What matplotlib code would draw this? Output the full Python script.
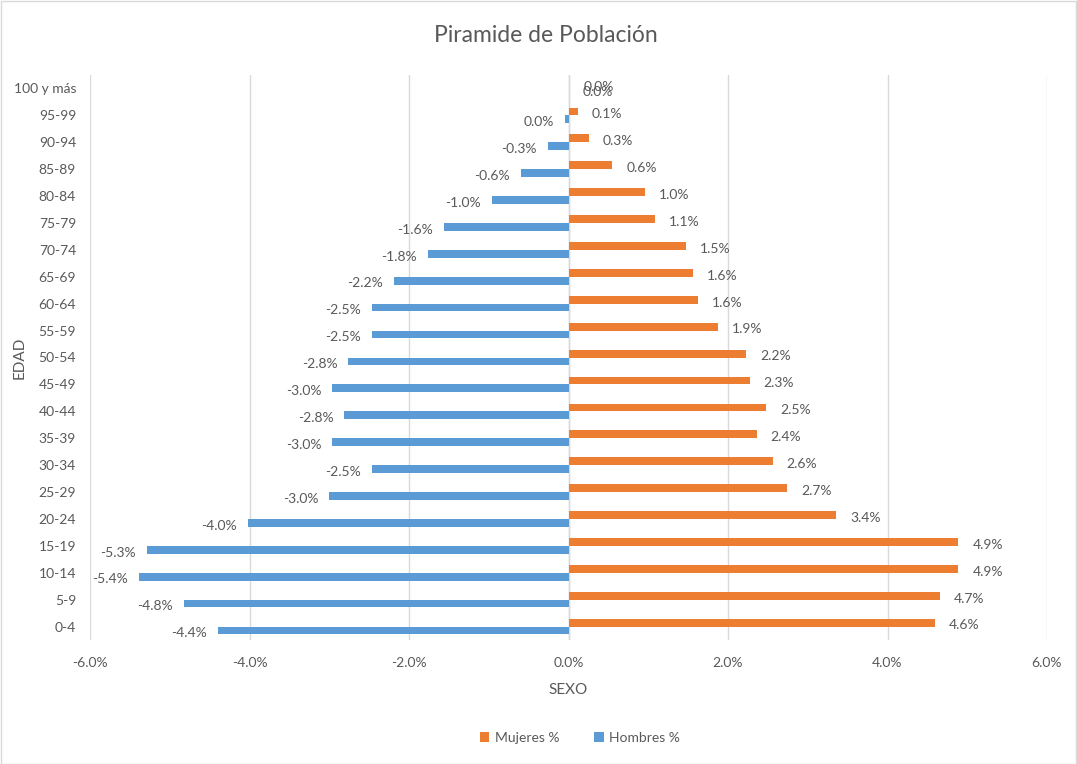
import matplotlib
matplotlib.use("Agg")
import matplotlib.pyplot as plt
from matplotlib.patches import Rectangle
from matplotlib.ticker import FuncFormatter
import numpy as np

plt.rcParams['font.family'] = ['Lato', 'DejaVu Sans']

categories = ["0-4", "5-9", "10-14", "15-19", "20-24", "25-29", "30-34", "35-39",
              "40-44", "45-49", "50-54", "55-59", "60-64", "65-69", "70-74", "75-79",
              "80-84", "85-89", "90-94", "95-99", "100 y más"]
mujeres = [4.59, 4.66, 4.89, 4.89, 3.36, 2.74, 2.56, 2.36, 2.48, 2.27, 2.23, 1.88,
           1.62, 1.56, 1.47, 1.08, 0.96, 0.55, 0.26, 0.12, 0.01]
hombres = [-4.40, -4.82, -5.39, -5.29, -4.02, -3.00, -2.46, -2.96, -2.81, -2.96, -2.76,
           -2.46, -2.46, -2.19, -1.76, -1.56, -0.96, -0.60, -0.26, -0.04, 0.0]
xticks = [-6, -4, -2, 0, 2, 4, 6]

grey = "#595959"
orange = "#ED7D31"
blue = "#5B9BD5"

W, H = 1077, 764
fig = plt.figure(figsize=(W / 100, H / 100), dpi=100)
fig.patch.set_facecolor("white")
fig.patches.append(Rectangle((0.5 / W, 0.5 / H), 1 - 1.5 / W, 1 - 1.5 / H,
                             transform=fig.transFigure, fill=False,
                             edgecolor="#d9d9d9", linewidth=1))

left, right, top, bottom = 90, 1047, 75, 640
ax = fig.add_axes([left / W, 1 - bottom / H, (right - left) / W, (bottom - top) / H])

y = np.arange(len(categories))
bh = 0.29
off = 0.145
ax.barh(y + off, mujeres, height=bh, color=orange, label="Mujeres %", zorder=3)
ax.barh(y - off, hombres, height=bh, color=blue, label="Hombres %", zorder=3)

def fmt(v):
    r = round(v, 1)
    if r == 0:
        return "0.0%"
    return f"{r:.1f}%"

lab_fs = 10
for yi, v in zip(y, mujeres):
    ax.annotate(fmt(v), (v, yi + off), xytext=(10, -2), textcoords="offset points",
                ha="left", va="center", fontsize=lab_fs, color=grey)
for yi, v in zip(y, hombres):
    if v < 0:
        ax.annotate(fmt(v), (v, yi - off), xytext=(-8, -2), textcoords="offset points",
                    ha="right", va="center", fontsize=lab_fs, color=grey)
    else:
        ax.annotate(fmt(v), (v, yi - off), xytext=(10, 0), textcoords="offset points",
                    ha="left", va="center", fontsize=lab_fs, color=grey)

ax.set_xlim(-6, 6)
ax.set_ylim(-0.5, len(categories) - 0.5)
ax.set_xticks(xticks)
ax.xaxis.set_major_formatter(FuncFormatter(lambda v, p: f"{v:.1f}%"))
ax.set_yticks(y)
ax.set_yticklabels(categories)
ax.tick_params(axis="both", length=0, labelsize=10, colors=grey)
ax.tick_params(axis="y", pad=10)
ax.tick_params(axis="x", pad=12)
for s in ax.spines.values():
    s.set_visible(False)
ax.grid(axis="x", color="#d9d9d9", linewidth=1, zorder=0)
ax.axvline(0, color="#d9d9d9", linewidth=1, zorder=1)

ax.set_xlabel("SEXO", fontsize=11, color=grey, labelpad=10)
fig.text(20 / W, 1 - 358 / H, "EDAD", rotation=90, ha="center", va="center",
         fontsize=11, color=grey)

fig.text(0.5 + 7 / W, 1 - 36 / H, "Piramide de Población", ha="center", va="center",
         fontsize=16.5, color=grey)

handles, labels = ax.get_legend_handles_labels()
fig.legend(handles, labels, loc="center", bbox_to_anchor=(580 / W, 1 - 738 / H),
           ncol=2, frameon=False, fontsize=10, labelcolor=grey, handlelength=0.7,
           handleheight=0.7, columnspacing=2.5, handletextpad=0.4)

fig.savefig("out.png", dpi=100, facecolor="white")
